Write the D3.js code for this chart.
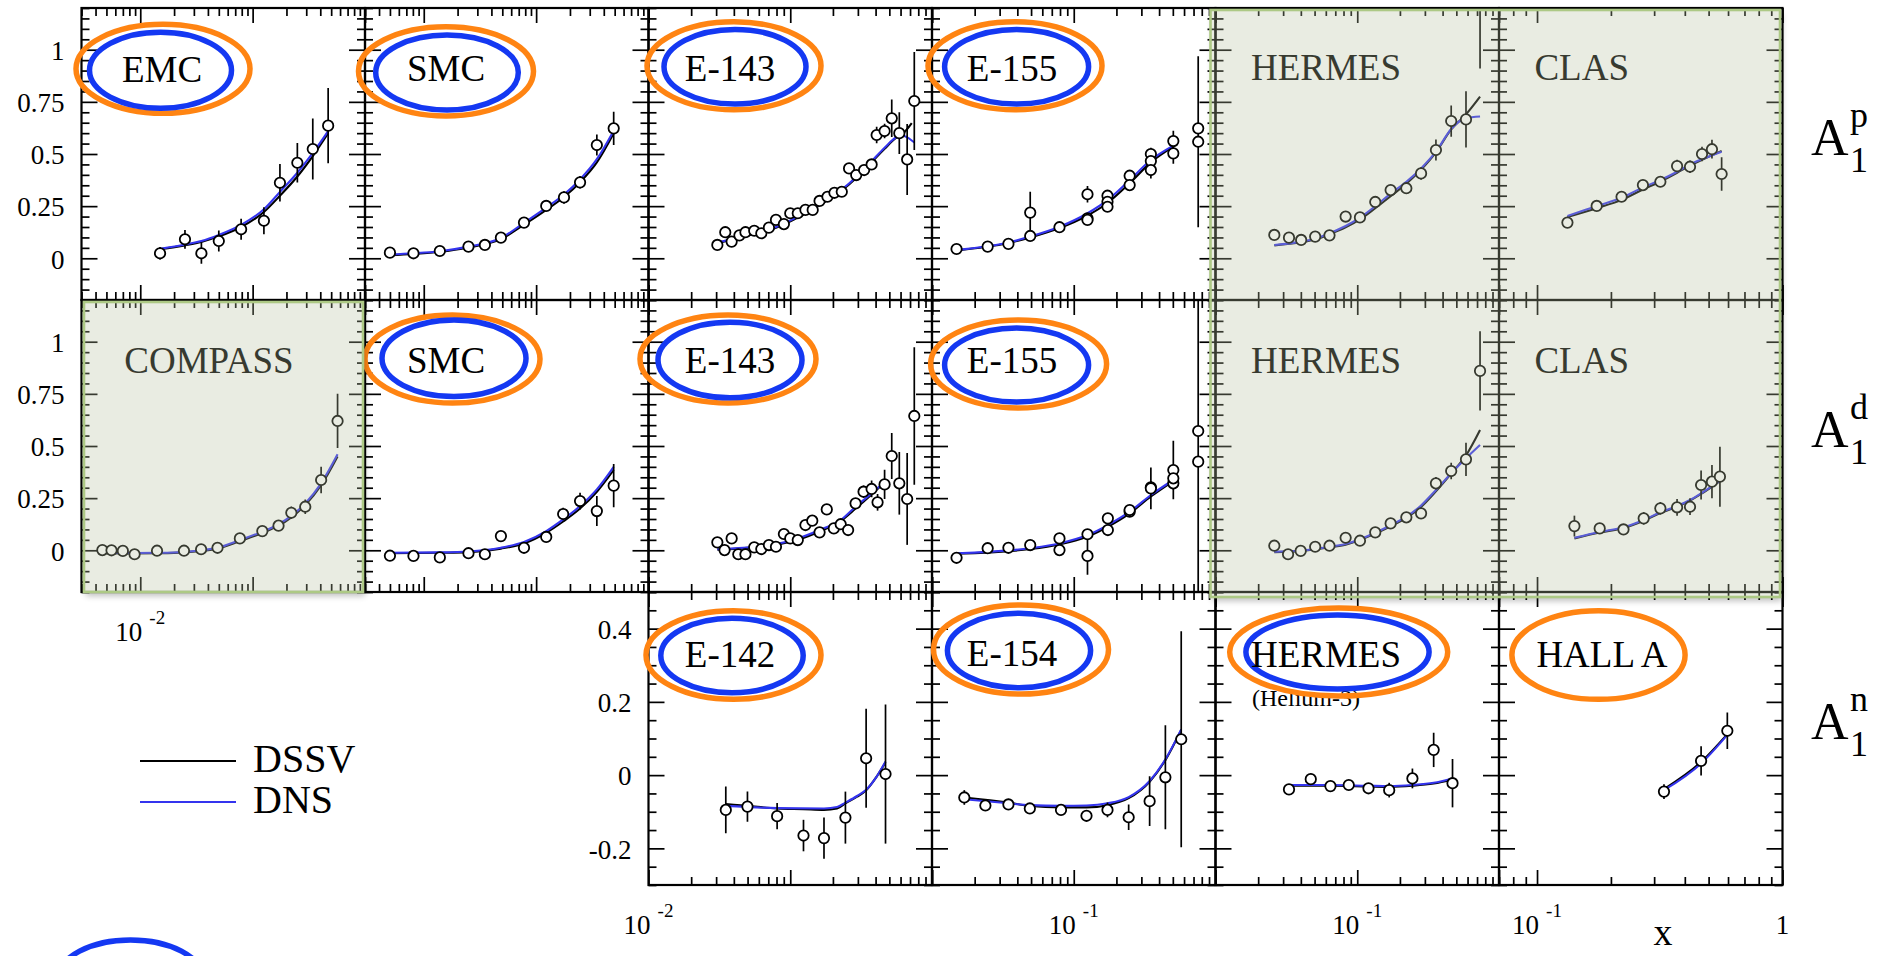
<!DOCTYPE html>
<html>
<head>
<meta charset="utf-8">
<script src="https://cdn.jsdelivr.net/npm/d3@7"></script>
<style>
  html, body { margin: 0; padding: 0; background: #fff; }
  svg { display: block; }
</style>
</head>
<body>
<svg id="chart" width="1884" height="956"></svg>
<script>
// ---------- A1 proton: data points [x, A1, error] and fit curves [x, A1] ----------
const emcP = [[0.015,0.024,0.03],[0.025,0.091,0.045],[0.035,0.024,0.05],[0.05,0.083,0.05],[0.079,0.139,0.05],[0.126,0.18,0.065],[0.175,0.362,0.09],[0.25,0.458,0.095],[0.343,0.524,0.146],[0.47,0.636,0.18]];
const emcPDssv = [[0.015,0.043],[0.025,0.062],[0.035,0.078],[0.05,0.105],[0.079,0.15],[0.126,0.222],[0.175,0.3],[0.25,0.392],[0.343,0.49],[0.47,0.6]];
const emcPDns = [[0.015,0.045],[0.025,0.066],[0.035,0.083],[0.05,0.112],[0.079,0.16],[0.126,0.235],[0.175,0.318],[0.25,0.41],[0.343,0.505],[0.47,0.61]];

const smcP = [[0.005,0.027,0.01],[0.0081,0.024,0.01],[0.0139,0.035,0.01],[0.025,0.056,0.012],[0.035,0.064,0.012],[0.0486,0.099,0.015],[0.078,0.171,0.015],[0.123,0.251,0.02],[0.177,0.292,0.03],[0.246,0.364,0.03],[0.347,0.543,0.05],[0.49,0.623,0.08]];
const smcPDssv = [[0.005,0.015],[0.0081,0.021],[0.0139,0.031],[0.025,0.052],[0.0486,0.092],[0.078,0.161],[0.123,0.232],[0.177,0.294],[0.246,0.365],[0.347,0.46],[0.49,0.6]];
const smcPDns = [[0.005,0.018],[0.0081,0.024],[0.0139,0.034],[0.025,0.056],[0.0486,0.097],[0.078,0.17],[0.123,0.243],[0.177,0.306],[0.246,0.378],[0.347,0.475],[0.49,0.612]];

const e143P = [[0.0306,0.064,0.015],[0.0348,0.125,0.01],[0.0386,0.08,0.01],[0.0438,0.11,0.01],[0.0483,0.125,0.01],[0.0557,0.132,0.01],[0.0625,0.12,0.01],[0.0707,0.147,0.01],[0.0793,0.184,0.01],[0.0902,0.164,0.01],[0.1,0.216,0.01],[0.113,0.216,0.01],[0.128,0.232,0.01],[0.144,0.232,0.01],[0.161,0.275,0.012],[0.183,0.295,0.012],[0.205,0.314,0.012],[0.231,0.319,0.015],[0.26,0.431,0.02],[0.292,0.399,0.02],[0.332,0.423,0.02],[0.375,0.45,0.025],[0.407,0.591,0.04],[0.463,0.61,0.035],[0.52,0.671,0.09],[0.588,0.6,0.1],[0.668,0.474,0.17],[0.75,0.754,0.235]];
const e143PDssv = [[0.0306,0.072],[0.0557,0.116],[0.0793,0.146],[0.113,0.195],[0.161,0.255],[0.231,0.325],[0.292,0.385],[0.375,0.46],[0.463,0.525],[0.56,0.578],[0.62,0.596],[0.72,0.648]];
const e143PDns = [[0.0306,0.075],[0.0557,0.12],[0.0793,0.15],[0.113,0.2],[0.161,0.26],[0.231,0.33],[0.292,0.39],[0.375,0.465],[0.463,0.53],[0.56,0.58],[0.62,0.588],[0.668,0.58],[0.75,0.555]];

const e155P = [[0.0149,0.0445,0.008],[0.0247,0.056,0.008],[0.0346,0.069,0.008],[0.0493,0.107,0.01],[0.0493,0.219,0.1],[0.0793,0.149,0.01],[0.125,0.192,0.01],[0.125,0.184,0.01],[0.125,0.307,0.04],[0.173,0.3,0.02],[0.173,0.271,0.015],[0.173,0.247,0.01],[0.248,0.396,0.02],[0.248,0.351,0.02],[0.35,0.5,0.03],[0.35,0.466,0.03],[0.35,0.423,0.04],[0.504,0.562,0.05],[0.504,0.503,0.05],[0.755,0.623,0.02],[0.755,0.559,0.41]];
const e155PDssv = [[0.0149,0.038],[0.0346,0.073],[0.0493,0.1],[0.0793,0.145],[0.125,0.205],[0.173,0.265],[0.248,0.36],[0.35,0.46],[0.504,0.535]];
const e155PDns = [[0.0149,0.04],[0.0346,0.076],[0.0493,0.104],[0.0793,0.151],[0.125,0.216],[0.173,0.279],[0.248,0.375],[0.35,0.471],[0.504,0.54]];

const hermesP = [[0.026,0.112,0.015],[0.033,0.099,0.01],[0.0402,0.088,0.01],[0.0505,0.104,0.01],[0.0637,0.11,0.01],[0.0828,0.2,0.015],[0.1045,0.196,0.015],[0.134,0.27,0.015],[0.172,0.327,0.02],[0.222,0.336,0.025],[0.282,0.407,0.03],[0.359,0.519,0.05],[0.46,0.658,0.075],[0.585,0.666,0.135],[0.735,1.45,0.54]];
const hermesPDssv = [[0.026,0.062],[0.0402,0.077],[0.0505,0.09],[0.0637,0.115],[0.0828,0.148],[0.1045,0.186],[0.134,0.24],[0.172,0.298],[0.222,0.357],[0.282,0.425],[0.359,0.508],[0.46,0.618],[0.585,0.69],[0.735,0.775]];
const hermesPDns = [[0.026,0.064],[0.0402,0.08],[0.0505,0.094],[0.0637,0.12],[0.0828,0.155],[0.1045,0.195],[0.134,0.25],[0.172,0.31],[0.222,0.367],[0.282,0.431],[0.359,0.511],[0.46,0.62],[0.585,0.672],[0.735,0.68]];

const clasP = [[0.133,0.171,0.02],[0.175,0.251,0.015],[0.221,0.295,0.02],[0.27,0.351,0.025],[0.318,0.367,0.025],[0.372,0.442,0.03],[0.42,0.439,0.03],[0.47,0.5,0.035],[0.516,0.523,0.045],[0.565,0.404,0.08]];
const clasPDssv = [[0.133,0.198],[0.175,0.24],[0.221,0.28],[0.27,0.33],[0.318,0.368],[0.372,0.41],[0.42,0.445],[0.47,0.472],[0.565,0.515]];
const clasPDns = [[0.133,0.203],[0.175,0.25],[0.221,0.29],[0.27,0.34],[0.318,0.375],[0.372,0.415],[0.42,0.45],[0.47,0.475],[0.565,0.511]];

// ---------- A1 deuteron ----------
const compassD = [[0.0046,0.001,0.008],[0.00555,0.0,0.008],[0.007,-0.003,0.008],[0.0089,-0.019,0.01],[0.0141,-0.002,0.01],[0.0245,-0.002,0.01],[0.0348,0.005,0.01],[0.0487,0.012,0.012],[0.077,0.057,0.015],[0.122,0.092,0.02],[0.17,0.118,0.025],[0.221,0.18,0.03],[0.294,0.209,0.035],[0.407,0.337,0.064],[0.57,0.62,0.13]];
const compassDDssv = [[0.0046,-0.014],[0.0089,-0.015],[0.0141,-0.014],[0.0245,-0.01],[0.0348,-0.003],[0.0487,0.008],[0.077,0.044],[0.122,0.083],[0.17,0.118],[0.221,0.158],[0.294,0.217],[0.407,0.312],[0.57,0.45]];
const compassDDns = [[0.0046,-0.012],[0.0089,-0.013],[0.0141,-0.012],[0.0245,-0.008],[0.0348,0.0],[0.0487,0.012],[0.077,0.049],[0.122,0.089],[0.17,0.125],[0.221,0.165],[0.294,0.225],[0.407,0.321],[0.57,0.46]];

const smcD = [[0.005,-0.026,0.01],[0.0081,-0.027,0.01],[0.0139,-0.034,0.012],[0.025,-0.014,0.012],[0.035,-0.019,0.012],[0.0486,0.068,0.015],[0.078,0.012,0.02],[0.123,0.064,0.02],[0.174,0.174,0.03],[0.246,0.236,0.04],[0.347,0.188,0.072],[0.49,0.31,0.104]];
const smcDDssv = [[0.005,-0.014],[0.0139,-0.012],[0.025,-0.009],[0.0486,0.008],[0.078,0.033],[0.123,0.084],[0.174,0.138],[0.246,0.2],[0.347,0.28],[0.49,0.385]];
const smcDDns = [[0.005,-0.012],[0.0139,-0.01],[0.025,-0.006],[0.0486,0.012],[0.078,0.04],[0.123,0.092],[0.174,0.148],[0.246,0.212],[0.347,0.292],[0.49,0.4]];

const e143D = [[0.0306,0.038,0.02],[0.0344,0.001,0.01],[0.0386,0.057,0.01],[0.043,-0.019,0.01],[0.0483,-0.019,0.01],[0.0557,0.014,0.01],[0.0625,0.006,0.01],[0.0707,0.025,0.01],[0.0793,0.017,0.01],[0.0902,0.078,0.012],[0.1,0.057,0.012],[0.113,0.049,0.012],[0.128,0.121,0.015],[0.143,0.142,0.015],[0.161,0.086,0.015],[0.181,0.196,0.015],[0.203,0.105,0.02],[0.227,0.125,0.02],[0.256,0.097,0.02],[0.289,0.225,0.025],[0.329,0.281,0.03],[0.375,0.294,0.04],[0.413,0.23,0.04],[0.463,0.316,0.07],[0.52,0.452,0.11],[0.588,0.321,0.15],[0.668,0.246,0.22],[0.75,0.644,0.33]];
const e143DDssv = [[0.0306,0.003],[0.0557,0.014],[0.0793,0.026],[0.113,0.05],[0.161,0.09],[0.227,0.14],[0.289,0.2],[0.375,0.268],[0.463,0.325]];
const e143DDns = [[0.0306,0.005],[0.0557,0.017],[0.0793,0.03],[0.113,0.057],[0.161,0.097],[0.227,0.145],[0.289,0.209],[0.375,0.273],[0.463,0.329]];

const e155D = [[0.0149,-0.036,0.008],[0.0247,0.01,0.01],[0.0346,0.012,0.01],[0.0493,0.025,0.012],[0.0793,0.057,0.012],[0.0793,0.001,0.015],[0.125,0.077,0.02],[0.125,-0.027,0.09],[0.174,0.153,0.02],[0.174,0.097,0.015],[0.248,0.185,0.02],[0.248,0.193,0.02],[0.35,0.302,0.03],[0.35,0.297,0.1],[0.504,0.385,0.14],[0.504,0.321,0.03],[0.504,0.345,0.03],[0.755,0.572,0.02],[0.755,0.425,1.2]];
const e155DDssv = [[0.0149,-0.016],[0.0493,0.006],[0.0793,0.028],[0.125,0.066],[0.174,0.113],[0.248,0.177],[0.35,0.258],[0.504,0.332]];
const e155DDns = [[0.0149,-0.014],[0.0493,0.01],[0.0793,0.033],[0.125,0.073],[0.174,0.121],[0.248,0.185],[0.35,0.265],[0.504,0.337]];

const hermesD = [[0.026,0.022,0.012],[0.0325,-0.019,0.012],[0.0399,-0.003,0.012],[0.0505,0.017,0.012],[0.0637,0.022,0.012],[0.0828,0.06,0.015],[0.1045,0.046,0.015],[0.134,0.086,0.015],[0.172,0.129,0.015],[0.222,0.158,0.02],[0.282,0.177,0.025],[0.359,0.321,0.03],[0.46,0.38,0.04],[0.585,0.436,0.08],[0.735,0.86,0.19]];
const hermesDDssv = [[0.026,-0.009],[0.0399,-0.004],[0.0637,0.014],[0.0828,0.027],[0.134,0.08],[0.172,0.115],[0.222,0.155],[0.282,0.208],[0.359,0.283],[0.46,0.368],[0.585,0.455],[0.735,0.577]];
const hermesDDns = [[0.026,-0.007],[0.0399,-0.002],[0.0637,0.017],[0.0828,0.03],[0.134,0.084],[0.172,0.12],[0.222,0.161],[0.282,0.215],[0.359,0.289],[0.46,0.369],[0.585,0.441],[0.735,0.505]];

const clasD = [[0.142,0.116,0.05],[0.18,0.105,0.02],[0.225,0.1,0.02],[0.272,0.153,0.03],[0.318,0.201,0.03],[0.372,0.206,0.04],[0.42,0.209,0.04],[0.466,0.313,0.07],[0.516,0.329,0.08],[0.556,0.353,0.144]];
const clasDDssv = [[0.142,0.057],[0.18,0.085],[0.225,0.107],[0.272,0.142],[0.318,0.179],[0.372,0.209],[0.42,0.238],[0.466,0.27],[0.556,0.332]];
const clasDDns = [[0.142,0.06],[0.18,0.088],[0.225,0.11],[0.272,0.145],[0.318,0.182],[0.372,0.212],[0.42,0.241],[0.466,0.273],[0.556,0.334]];

// ---------- A1 neutron ----------
const e142N = [[0.0351,-0.095,0.064],[0.0499,-0.086,0.041],[0.0808,-0.112,0.036],[0.124,-0.165,0.043],[0.173,-0.172,0.056],[0.245,-0.116,0.071],[0.343,0.046,0.135],[0.47,0.003,0.19]];
const e142NDssv = [[0.0351,-0.079],[0.0499,-0.084],[0.0808,-0.091],[0.124,-0.093],[0.173,-0.095],[0.214,-0.091],[0.245,-0.077],[0.296,-0.059],[0.343,-0.041],[0.407,-0.004],[0.47,0.035]];
const e142NDns = [[0.0351,-0.084],[0.0808,-0.09],[0.173,-0.091],[0.214,-0.087],[0.245,-0.075],[0.296,-0.057],[0.343,-0.04],[0.407,-0.004],[0.47,0.037]];

const e154N = [[0.0169,-0.061,0.02],[0.0238,-0.083,0.015],[0.0346,-0.08,0.015],[0.049,-0.091,0.015],[0.0813,-0.095,0.012],[0.123,-0.111,0.015],[0.173,-0.095,0.02],[0.244,-0.115,0.035],[0.343,-0.071,0.068],[0.443,-0.006,0.142],[0.573,0.098,0.295]];
const e154NDssv = [[0.0169,-0.061],[0.0346,-0.075],[0.049,-0.084],[0.0813,-0.088],[0.123,-0.088],[0.173,-0.082],[0.244,-0.063],[0.343,-0.018],[0.443,0.041],[0.573,0.123]];
const e154NDns = [[0.0169,-0.066],[0.0346,-0.077],[0.049,-0.082],[0.0813,-0.084],[0.123,-0.083],[0.173,-0.077],[0.244,-0.06],[0.343,-0.016],[0.443,0.043],[0.573,0.125]];

const hermesN = [[0.033,-0.039,0.01],[0.047,-0.011,0.015],[0.0647,-0.03,0.01],[0.0871,-0.027,0.012],[0.12,-0.036,0.012],[0.168,-0.041,0.02],[0.245,-0.009,0.027],[0.346,0.069,0.047],[0.47,-0.022,0.066]];
const hermesNDssv = [[0.033,-0.029],[0.0647,-0.029],[0.12,-0.031],[0.168,-0.032],[0.245,-0.029],[0.346,-0.023],[0.47,-0.012]];
const hermesNDns = [[0.033,-0.027],[0.0647,-0.027],[0.12,-0.029],[0.168,-0.03],[0.245,-0.027],[0.346,-0.021],[0.47,-0.009]];

const hallaN = [[0.329,-0.045,0.02],[0.466,0.039,0.04],[0.596,0.121,0.05]];
const hallaNDssv = [[0.329,-0.038],[0.466,0.036],[0.596,0.112]];
const hallaNDns = [[0.329,-0.041],[0.466,0.032],[0.596,0.11]];

// ---------- axes ----------
const colDomains = [[0.003,1],[0.003,1],[0.01,1],[0.01,1],[0.01,1],[0.07,1]];
const rowDomains = [[-0.2,1.2],[-0.2,1.2],[-0.3,0.5]];
const yMajorPD = [0,0.25,0.5,0.75,1];
const yLabelsPD = ["0","0.25","0.5","0.75","1"];
const yMajorN = [-0.2,0,0.2,0.4];
const yLabelsN = ["-0.2","0","0.2","0.4"];
const yMinorStep = 0.05;
const xDecades = [0.001,0.01,0.1,1];
const xMinorMult = [2,3,4,5,6,7,8,9];
const rowSymbols = ["p","d","n"];
const legendNames = ["DSSV","DNS"];

// ---------- layout ----------
const gridLeft = 81.5, colW = 283.5;
const rowTop = [8,300,592], rowH = [292,292,293];
const FONT = '"Liberation Serif","Times New Roman",Times,serif';
const C_DSSV = "#000000", C_DNS = "#3434ee";
const C_ORANGE = "#ff8412", C_BLUE = "#1438f2";

const panels = [
  {row:0,col:0,pts:emcP,dssv:emcPDssv,dns:emcPDns},
  {row:0,col:1,pts:smcP,dssv:smcPDssv,dns:smcPDns},
  {row:0,col:2,pts:e143P,dssv:e143PDssv,dns:e143PDns},
  {row:0,col:3,pts:e155P,dssv:e155PDssv,dns:e155PDns},
  {row:0,col:4,pts:hermesP,dssv:hermesPDssv,dns:hermesPDns},
  {row:0,col:5,pts:clasP,dssv:clasPDssv,dns:clasPDns},
  {row:1,col:0,pts:compassD,dssv:compassDDssv,dns:compassDDns},
  {row:1,col:1,pts:smcD,dssv:smcDDssv,dns:smcDDns},
  {row:1,col:2,pts:e143D,dssv:e143DDssv,dns:e143DDns},
  {row:1,col:3,pts:e155D,dssv:e155DDssv,dns:e155DDns},
  {row:1,col:4,pts:hermesD,dssv:hermesDDssv,dns:hermesDDns},
  {row:1,col:5,pts:clasD,dssv:clasDDssv,dns:clasDDns},
  {row:2,col:2,pts:e142N,dssv:e142NDssv,dns:e142NDns},
  {row:2,col:3,pts:e154N,dssv:e154NDssv,dns:e154NDns},
  {row:2,col:4,pts:hermesN,dssv:hermesNDssv,dns:hermesNDns},
  {row:2,col:5,pts:hallaN,dssv:hallaNDssv,dns:hallaNDns}
];

// experiment tags: text position and ring positions relative to the panel's top-left corner
const tags = [
  {row:0,col:0,text:"EMC",tx:80.5,ty:73.7,rings:[[C_ORANGE,81.5,60.8,87,44.5],[C_BLUE,79,62.3,71,38]]},
  {row:0,col:1,text:"SMC",tx:81,ty:73,rings:[[C_ORANGE,81,63.3,87.5,44.6],[C_BLUE,82,64.5,71.3,37.5]]},
  {row:0,col:2,text:"E-143",tx:81.5,ty:73,rings:[[C_ORANGE,85.5,57.8,87,44],[C_BLUE,86.5,58.7,71,37.3]]},
  {row:0,col:3,text:"E-155",tx:80,ty:73,rings:[[C_ORANGE,83,57.8,87,44],[C_BLUE,84.6,58.7,72,37.3]]},
  {row:0,col:4,text:"HERMES",tx:110.5,ty:72,rings:[]},
  {row:0,col:5,text:"CLAS",tx:82.7,ty:72,rings:[]},
  {row:1,col:0,text:"COMPASS",tx:127.5,ty:73.3,rings:[]},
  {row:1,col:1,text:"SMC",tx:81,ty:73.3,rings:[[C_ORANGE,87.5,59,87.5,44],[C_BLUE,89,58.3,72,38.3]]},
  {row:1,col:2,text:"E-143",tx:81.5,ty:73.3,rings:[[C_ORANGE,79.5,59,88,44],[C_BLUE,81.5,60,72,37.8]]},
  {row:1,col:3,text:"E-155",tx:80,ty:73.3,rings:[[C_ORANGE,86.6,64,88,44],[C_BLUE,84.6,65,72,37]]},
  {row:1,col:4,text:"HERMES",tx:110.5,ty:73.3,rings:[]},
  {row:1,col:5,text:"CLAS",tx:82.7,ty:73.3,rings:[]},
  {row:2,col:2,text:"E-142",tx:81.5,ty:74.7,rings:[[C_ORANGE,85,63,87.5,44.3],[C_BLUE,83.5,63.5,71.2,37.2]]},
  {row:2,col:3,text:"E-154",tx:80,ty:74,rings:[[C_ORANGE,89,57.5,87.5,44.5],[C_BLUE,87,58.5,71.6,37.2]]},
  {row:2,col:4,text:"HERMES",tx:110.5,ty:74.7,note:"(Helium-3)",nx:36.5,ny:114,rings:[[C_ORANGE,123.2,60,109,44],[C_BLUE,122,60,91.6,37]]},
  {row:2,col:5,text:"HALL A",tx:103,ty:74.7,rings:[[C_ORANGE,99.5,63,86.6,44.3]]}
];

const svg = d3.select("#chart").attr("font-family", FONT);
const defs = svg.append("defs");

function scalesFor(row, col) {
  const x0 = gridLeft + col * colW, y0 = rowTop[row], h = rowH[row];
  return {
    x0, y0, h,
    x: d3.scaleLog().domain(colDomains[col]).range([x0, x0 + colW]),
    y: d3.scaleLinear().domain(rowDomains[row]).range([y0 + h, y0])
  };
}

function xTickValues(dom, major) {
  const out = [];
  xDecades.forEach(d => {
    (major ? [1] : xMinorMult).forEach(m => {
      const v = d * m;
      if (v >= dom[0] * 0.999 && v <= dom[1] * 1.001) out.push(v);
    });
  });
  return out;
}
function yTickValues(dom, majors) {
  const lo = Math.round(dom[0] / yMinorStep), hi = Math.round(dom[1] / yMinorStep);
  return d3.range(lo, hi + 1).map(i => +(i * yMinorStep).toFixed(3))
    .filter(v => !majors.some(m => Math.abs(m - v) < 1e-6));
}

function tickAxis(gen, scale, vals, len, tx, ty) {
  const a = gen(scale).tickValues(vals).tickSizeInner(-len).tickSizeOuter(0).tickFormat("");
  const g = svg.append("g").attr("transform", `translate(${tx},${ty})`).call(a);
  g.select(".domain").remove();
  g.selectAll("line").attr("stroke", "#000").attr("stroke-width", 1.7);
}

panels.forEach(p => {
  const s = scalesFor(p.row, p.col);
  const majY = p.row < 2 ? yMajorPD : yMajorN;
  const minY = yTickValues(rowDomains[p.row], majY);
  const majX = xTickValues(colDomains[p.col], true);
  const minX = xTickValues(colDomains[p.col], false);

  // inward ticks on all four sides
  tickAxis(d3.axisLeft, s.y, minY, 8, s.x0, 0);
  tickAxis(d3.axisLeft, s.y, majY, 16, s.x0, 0);
  tickAxis(d3.axisRight, s.y, minY, 8, s.x0 + colW, 0);
  tickAxis(d3.axisRight, s.y, majY, 16, s.x0 + colW, 0);
  tickAxis(d3.axisBottom, s.x, minX, 8, 0, s.y0 + s.h);
  tickAxis(d3.axisBottom, s.x, majX, 15, 0, s.y0 + s.h);
  tickAxis(d3.axisTop, s.x, minX, 8, 0, s.y0);
  tickAxis(d3.axisTop, s.x, majX, 15, 0, s.y0);

  // frame
  svg.append("rect").attr("x", s.x0).attr("y", s.y0).attr("width", colW).attr("height", s.h)
    .attr("fill", "none").attr("stroke", "#000").attr("stroke-width", 2.2);

  const cid = `clip-${p.row}-${p.col}`;
  defs.append("clipPath").attr("id", cid).append("rect")
    .attr("x", s.x0 + 1).attr("y", s.y0 + 1).attr("width", colW - 2).attr("height", s.h - 2);
  const g = svg.append("g").attr("clip-path", `url(#${cid})`);

  const line = d3.line().x(d => s.x(d[0])).y(d => s.y(d[1])).curve(d3.curveMonotoneX);
  g.append("path").attr("d", line(p.dssv)).attr("fill", "none").attr("stroke", C_DSSV).attr("stroke-width", 2.1);
  g.append("path").attr("d", line(p.dns)).attr("fill", "none").attr("stroke", C_DNS).attr("stroke-width", 2.1);

  g.selectAll("line.err").data(p.pts).join("line").attr("class", "err")
    .attr("x1", d => s.x(d[0])).attr("x2", d => s.x(d[0]))
    .attr("y1", d => s.y(d[1] - d[2])).attr("y2", d => s.y(d[1] + d[2]))
    .attr("stroke", "#000").attr("stroke-width", 1.7);
  g.selectAll("circle.pt").data(p.pts).join("circle").attr("class", "pt")
    .attr("cx", d => s.x(d[0])).attr("cy", d => s.y(d[1])).attr("r", 5.2)
    .attr("fill", "#fff").attr("stroke", "#000").attr("stroke-width", 1.8);
});

// experiment tags and rings
tags.forEach(t => {
  const x0 = gridLeft + t.col * colW, y0 = rowTop[t.row];
  if (t.note) {
    svg.append("text").attr("x", x0 + t.nx).attr("y", y0 + t.ny)
      .attr("font-size", 24).attr("fill", "#000").text(t.note);
  }
  t.rings.forEach(r => {
    svg.append("ellipse").attr("cx", x0 + r[1]).attr("cy", y0 + r[2]).attr("rx", r[3]).attr("ry", r[4])
      .attr("fill", "none").attr("stroke", r[0]).attr("stroke-width", 5.5);
  });
  svg.append("text").attr("x", x0 + t.tx).attr("y", y0 + t.ty).attr("text-anchor", "middle")
    .attr("font-size", 37).attr("fill", "#000").text(t.text);
});

// y tick labels
function yLabels(row, col, vals, labels) {
  const s = scalesFor(row, col);
  const a = d3.axisLeft(s.y).tickValues(vals).tickFormat((d, i) => labels[i]).tickSize(0).tickPadding(17);
  const g = svg.append("g").attr("transform", `translate(${s.x0},0)`).call(a);
  g.select(".domain").remove();
  g.attr("font-family", FONT).attr("font-size", 27);
  g.selectAll("text").attr("fill", "#000").attr("dy", "0.36em");
}
yLabels(0, 0, yMajorPD, yLabelsPD);
yLabels(1, 0, yMajorPD, yLabelsPD);
yLabels(2, 2, yMajorN, yLabelsN);

// x tick labels (powers of ten)
function xLabel(row, col, value, exp) {
  const s = scalesFor(row, col);
  const t = svg.append("text").attr("x", s.x(value)).attr("y", s.y0 + s.h + 49)
    .attr("text-anchor", "middle").attr("font-size", 27).attr("fill", "#000");
  if (exp === null) { t.text("1"); return; }
  t.append("tspan").text("10");
  t.append("tspan").attr("dx", 7).attr("dy", -17).attr("font-size", 19).text(exp);
}
xLabel(1, 0, 0.01, "-2");
xLabel(2, 2, 0.01, "-2");
xLabel(2, 3, 0.1, "-1");
xLabel(2, 4, 0.1, "-1");
xLabel(2, 5, 0.1, "-1");
xLabel(2, 5, 1, null);

// translucent highlight boxes over COMPASS and the HERMES/CLAS block
const shadeBoxes = [
  {x: 84, y: 302, w: 279, h: 290},
  {x: 1210.5, y: 10, w: 569.5, h: 587}
];
defs.append("filter").attr("id", "soft").attr("x", "-10%").attr("y", "-10%").attr("width", "120%").attr("height", "120%")
  .append("feGaussianBlur").attr("stdDeviation", 3);
shadeBoxes.forEach((b, i) => {
  const m = defs.append("mask").attr("id", "outside" + i);
  m.append("rect").attr("x", 0).attr("y", 0).attr("width", 1884).attr("height", 956).attr("fill", "#fff");
  m.append("rect").attr("x", b.x).attr("y", b.y).attr("width", b.w).attr("height", b.h).attr("fill", "#000");
  svg.append("rect").attr("x", b.x + 2).attr("y", b.y + 4).attr("width", b.w).attr("height", b.h)
    .attr("fill", "#000").attr("opacity", 0.25).attr("filter", "url(#soft)").attr("mask", `url(#outside${i})`);
  svg.append("rect").attr("x", b.x).attr("y", b.y).attr("width", b.w).attr("height", b.h)
    .attr("fill", "rgb(182,192,160)").attr("fill-opacity", 0.3)
    .attr("stroke", "#adc985").attr("stroke-width", 2.6);
});

// row symbols A1^p, A1^d, A1^n
rowSymbols.forEach((sym, r) => {
  const y0 = rowTop[r];
  svg.append("text").attr("x", 1811).attr("y", y0 + 147).attr("font-size", 52).attr("fill", "#000").text("A");
  svg.append("text").attr("x", 1850).attr("y", y0 + 119).attr("font-size", 36).attr("fill", "#000").text(sym);
  svg.append("text").attr("x", 1850).attr("y", y0 + 164).attr("font-size", 36).attr("fill", "#000").text("1");
});

// legend
const legendColors = [C_DSSV, C_DNS];
legendNames.forEach((name, i) => {
  const ly = 761 + i * 41;
  svg.append("line").attr("x1", 140).attr("x2", 236).attr("y1", ly).attr("y2", ly)
    .attr("stroke", legendColors[i]).attr("stroke-width", 2.2);
  svg.append("text").attr("x", 253).attr("y", ly + 11).attr("font-size", 40).attr("fill", "#000").text(name);
});

// x-axis title
svg.append("text").attr("x", 1663).attr("y", 945).attr("text-anchor", "middle")
  .attr("font-size", 38).attr("fill", "#000").text("x");

// ring key partly visible at the bottom-left corner
svg.append("ellipse").attr("cx", 130.5).attr("cy", 978).attr("rx", 72).attr("ry", 38)
  .attr("fill", "none").attr("stroke", C_BLUE).attr("stroke-width", 5.5);
</script>
</body>
</html>
